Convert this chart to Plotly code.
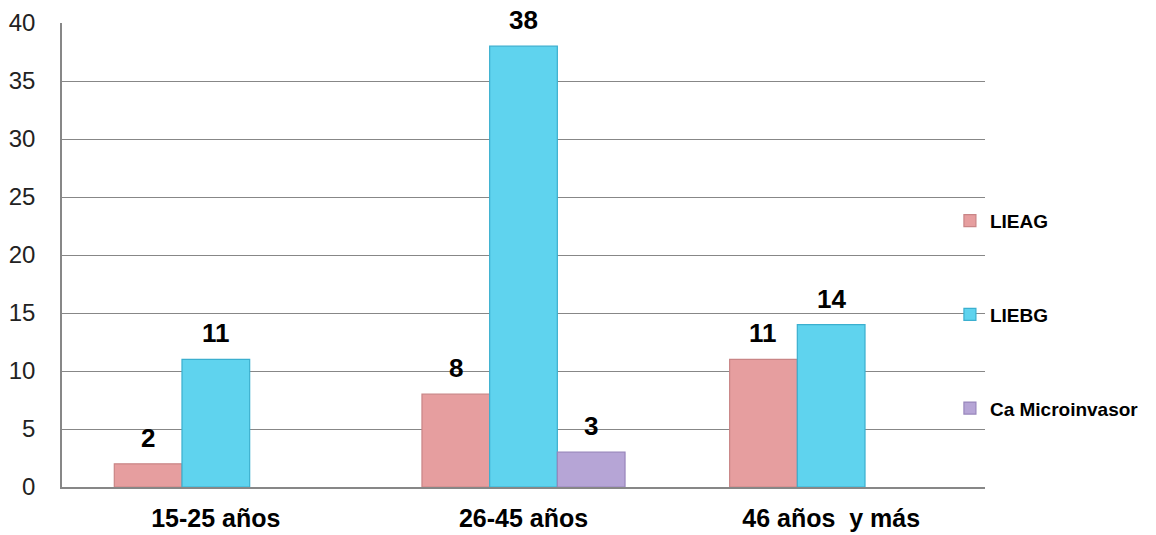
import plotly.graph_objects as go

# Age groups and lesion counts per diagnosis
categories = ["15-25 años", "26-45 años", "46 años  y más"]
series_names = ["LIEAG", "LIEBG", "Ca Microinvasor"]
lieag = [2, 8, 11]
liebg = [11, 38, 14]
ca_micro = [None, 3, None]
y_ticks = [0, 5, 10, 15, 20, 25, 30, 35, 40]

series_values = [lieag, liebg, ca_micro]
fill_colors = ["#E69E9F", "#5FD3EE", "#B6A5D6"]
edge_colors = ["#C98586", "#3BAFCF", "#9886BC"]

bar_width = 0.22
n_series = len(series_names)
start = -bar_width * n_series / 2

fig = go.Figure()
for i, (name, vals) in enumerate(zip(series_names, series_values)):
    fig.add_trace(go.Bar(
        x=categories,
        y=vals,
        name=name,
        legendgroup=name,
        width=bar_width,
        offset=start + i * bar_width,
        marker=dict(color=fill_colors[i],
                    line=dict(color=edge_colors[i], width=1.2)),
    ))

# value labels above each bar
annotations = []
for i, vals in enumerate(series_values):
    for j, v in enumerate(vals):
        if v is None:
            continue
        annotations.append(dict(
            x=j + start + (i + 0.5) * bar_width,
            y=v,
            xref="x", yref="y",
            text=f"<b>{v}</b>",
            showarrow=False,
            yanchor="bottom",
            yshift=9,
            font=dict(family="Liberation Sans", size=26, color="#000000"),
        ))

fig.update_layout(
    width=1156, height=535,
    margin=dict(l=62, r=171, t=23, b=48, autoexpand=False),
    paper_bgcolor="white",
    plot_bgcolor="white",
    barmode="group",
    showlegend=True,
    legend=dict(
        x=0.962, xanchor="left",
        y=0.371, yanchor="middle",
        font=dict(family="Liberation Sans", size=19, color="#000000", weight="bold"),
        tracegroupgap=66,
        bgcolor="rgba(0,0,0,0)",
        traceorder="grouped",
    ),
    annotations=annotations,
)

fig.update_xaxes(
    type="category",
    categoryorder="array",
    categoryarray=categories,
    automargin=False,
    showgrid=False,
    showline=True,
    linecolor="#878787",
    linewidth=1.5,
    ticks="",
    ticklabelstandoff=8,
    tickfont=dict(family="Liberation Sans", size=25, color="#000000", weight="bold"),
)

fig.update_yaxes(
    range=[0, 40],
    tickvals=y_ticks,
    automargin=False,
    showgrid=True,
    gridcolor="#878787",
    gridwidth=1.2,
    showline=True,
    linecolor="#878787",
    linewidth=1.5,
    zeroline=False,
    ticks="",
    ticklabelstandoff=20,
    tickfont=dict(family="Liberation Sans", size=24, color="#222222"),
)

fig.write_html("out.html")
